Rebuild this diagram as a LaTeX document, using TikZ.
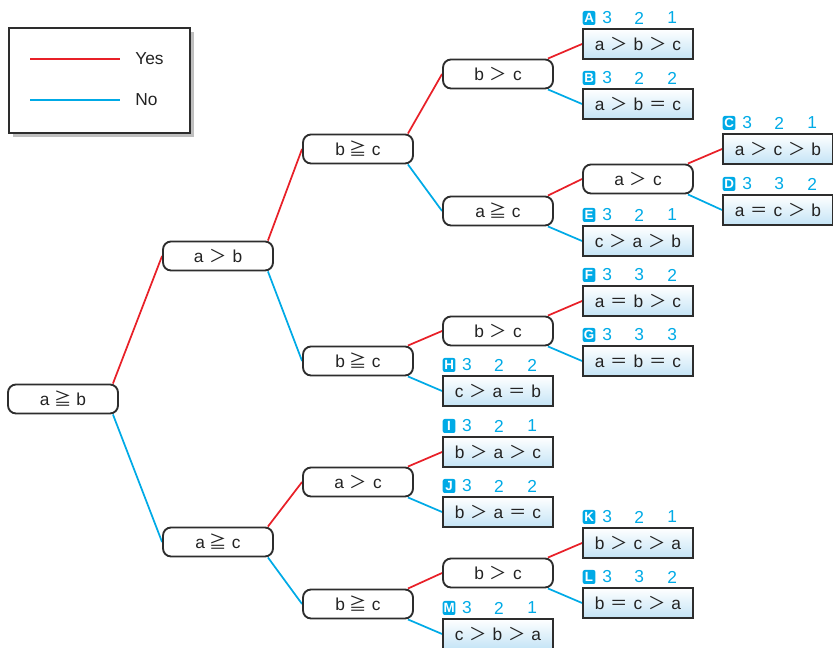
\documentclass[tikz,border=0pt]{standalone}
\usepackage{fontspec}
\setmainfont{Liberation Sans}
\newfontfamily\cjk{Noto Sans CJK JP}
\usetikzlibrary{calc,shadings,backgrounds}
\definecolor{yesred}{RGB}{232,32,40}
\definecolor{nocyan}{RGB}{0,170,230}
\definecolor{boxgray}{RGB}{45,45,45}
\definecolor{leafblue}{RGB}{196,228,246}
\definecolor{txt}{RGB}{35,35,35}
\newcommand\gee{{\cjk ≧}}
\newcommand\gtr{\hspace{0.8pt}{\cjk ＞}\hspace{0.8pt}}
\newcommand\eqr{\hspace{0.8pt}{\cjk ＝}\hspace{0.8pt}}
\newcommand\leafbox[8]{%
  \node[leaf] (#1) at (#2,#3) {#5};
  \node[badge] (#1b) at ($(#1.west)+(7,-26)$) {#4};
  \node[digit] (#1d1) at ($(#1.west)+(25,-26)$) {#6};
  \node[digit] (#1d2) at ($(#1.west)+(57,-26)$) {#7};
  \node[digit] (#1d3) at ($(#1.west)+(90,-26)$) {#8};
}
\tikzset{
  dec/.style={draw=boxgray, line width=1.4pt, rounded corners=6pt, fill=white,
    minimum width=82.5pt, minimum height=21.75pt, inner sep=0pt, text=txt,
    font=\fontsize{13}{15}\selectfont},
  leaf/.style={draw=boxgray, line width=1.4pt, top color=white, bottom color=leafblue,
    minimum width=82.5pt, minimum height=22.5pt, inner sep=0pt, text=txt,
    font=\fontsize{13}{15}\selectfont},
  badge/.style={fill=nocyan, rounded corners=1.5pt, text=white, inner sep=0pt,
    minimum width=9.5pt, minimum height=10.5pt, font=\bfseries\fontsize{10}{11}\selectfont},
  digit/.style={text=nocyan, inner sep=0pt, font=\fontsize{13}{15}\selectfont},
  yes/.style={draw=yesred, line width=1.3pt},
  no/.style={draw=nocyan, line width=1.3pt},
}
\begin{document}
\begin{tikzpicture}[x=0.75pt,y=-0.75pt]
\useasboundingbox (0,0) rectangle (833,648);
% legend
\fill[gray!50] (13,32) rectangle (194,137);
\node[draw=boxgray, line width=0.8pt, fill=white, minimum width=135.75pt, minimum height=78.75pt, inner sep=0pt] (legend) at (99.5,80.5) {};
\coordinate (ly1) at (30,59);
\coordinate (ly2) at (120,59);
\coordinate (ln1) at (30,100);
\coordinate (ln2) at (120,100);
\draw[yes] (ly1) -- (ly2);
\draw[no] (ln1) -- (ln2);
\node[anchor=west, text=txt, font=\fontsize{13}{15}\selectfont, inner sep=0pt] (lyes) at (135,59) {Yes};
\node[anchor=west, text=txt, font=\fontsize{13}{15}\selectfont, inner sep=0pt] (lno) at (135,100) {No};
% decision nodes
\node[dec] (root) at (63,399) {a \gee\ b};
\node[dec] (ab) at (218,256) {a \gtr\ b};
\node[dec] (acA) at (218,542) {a \gee\ c};
\node[dec] (bcT) at (358,149) {b \gee\ c};
\node[dec] (bcM) at (358,361) {b \gee\ c};
\node[dec] (acB) at (358,482) {a \gtr\ c};
\node[dec] (bcB) at (358,604) {b \gee\ c};
\node[dec] (gbcT) at (498,74) {b \gtr\ c};
\node[dec] (gac) at (498,211) {a \gee\ c};
\node[dec] (gbcM) at (498,331) {b \gtr\ c};
\node[dec] (gbcB) at (498,573) {b \gtr\ c};
\node[dec] (hac) at (638,179) {a \gtr\ c};
% leaves
\leafbox{A}{638}{44}{A}{a \gtr\ b \gtr\ c}{3}{2}{1}
\leafbox{B}{638}{104}{B}{a \gtr\ b \eqr\ c}{3}{2}{2}
\leafbox{C}{778}{149}{C}{a \gtr\ c \gtr\ b}{3}{2}{1}
\leafbox{D}{778}{210}{D}{a \eqr\ c \gtr\ b}{3}{3}{2}
\leafbox{E}{638}{241}{E}{c \gtr\ a \gtr\ b}{3}{2}{1}
\leafbox{F}{638}{301}{F}{a \eqr\ b \gtr\ c}{3}{3}{2}
\leafbox{G}{638}{361}{G}{a \eqr\ b \eqr\ c}{3}{3}{3}
\leafbox{H}{498}{391}{H}{c \gtr\ a \eqr\ b}{3}{2}{2}
\leafbox{I}{498}{452}{I}{b \gtr\ a \gtr\ c}{3}{2}{1}
\leafbox{J}{498}{512}{J}{b \gtr\ a \eqr\ c}{3}{2}{2}
\leafbox{K}{638}{543}{K}{b \gtr\ c \gtr\ a}{3}{2}{1}
\leafbox{L}{638}{603}{L}{b \eqr\ c \gtr\ a}{3}{3}{2}
\leafbox{M}{498}{634}{M}{c \gtr\ b \gtr\ a}{3}{2}{1}
% connectors
\begin{scope}[on background layer]
\foreach \p/\y/\n in {root/ab/acA, ab/bcT/bcM, acA/acB/bcB, bcT/gbcT/gac, bcM/gbcM/H,
  acB/I/J, bcB/gbcB/M, gbcT/A/B, gac/hac/E, gbcM/F/G, gbcB/K/L, hac/C/D}{
  \draw[yes] ([xshift=-4.5pt]\p.north east) -- (\y.west);
  \draw[no] ([xshift=-4.5pt]\p.south east) -- (\n.west);
}
\end{scope}
\end{tikzpicture}
\end{document}
